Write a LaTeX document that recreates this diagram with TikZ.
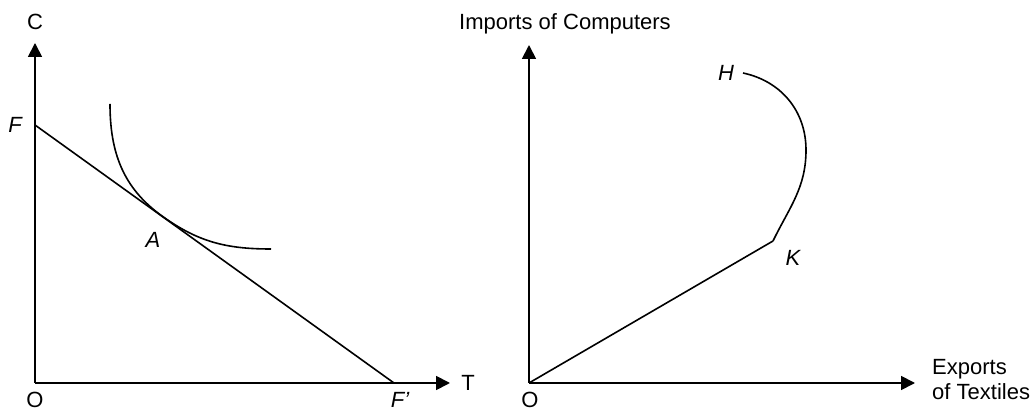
\documentclass[tikz,border=0pt]{standalone}
\usepackage{fontspec}
\setmainfont{Liberation Sans}
\usetikzlibrary{arrows.meta}
\tikzset{
  axis/.style={line width=1.8pt, -{Triangle[length=14pt,width=14pt]}},
  curve/.style={line width=1.6pt},
  lbl/.style={font=\fontsize{22}{25}\selectfont, inner sep=0pt},
  ilbl/.style={font=\fontsize{22}{25}\selectfont\itshape, inner sep=0pt}
}
\begin{document}
\begin{tikzpicture}[x=1pt,y=1pt]
\useasboundingbox (0,0) rectangle (1034,412);
% left panel
\coordinate (O1) at (35,29);
\coordinate (Ctip) at (35,369);
\coordinate (Ttip) at (450,29);
\coordinate (F) at (35,287);
\coordinate (Fp) at (394,29);
\coordinate (Istart) at (110,308);
\coordinate (Apt) at (162,196);
\coordinate (Iend) at (271,163);
\draw[axis] (O1) -- (Ctip);
\draw[axis] (O1) -- (Ttip);
\draw[curve] (F) -- (Fp);
\draw[curve] (Istart) to[out=-90,in=144.3] (Apt) to[out=-35.7,in=180] (Iend);
\node[lbl, anchor=base] (Clab) at (35,382) {C};
\node[lbl] (Tlab) at (468,29) {T};
\node[lbl] (O1lab) at (35,12) {O};
\node[ilbl] (Flab) at (15,287) {F};
\node[ilbl] (Fplab) at (400,12) {F’};
\node[ilbl] (Alab) at (153,172) {A};
% right panel
\coordinate (O2) at (529,29);
\coordinate (Itip) at (529,367);
\coordinate (Etip) at (915,29);
\coordinate (K) at (773,171);
\coordinate (M) at (806,262);
\coordinate (H) at (743,339);
\draw[axis] (O2) -- (Itip);
\draw[axis] (O2) -- (Etip);
\draw[curve] (O2) -- (K);
\draw[curve] (K) to[out=64,in=-90] (M) to[out=90,in=-12] (H);
\node[lbl, anchor=base] (Ilab) at (565,382) {Imports of Computers};
\node[lbl, anchor=west, align=left] (Elab) at (932,32) {Exports\\of Textiles};
\node[lbl] (O2lab) at (530,12) {O};
\node[ilbl] (Hlab) at (726,339) {H};
\node[ilbl] (Klab) at (793,154) {K};
\end{tikzpicture}
\end{document}
